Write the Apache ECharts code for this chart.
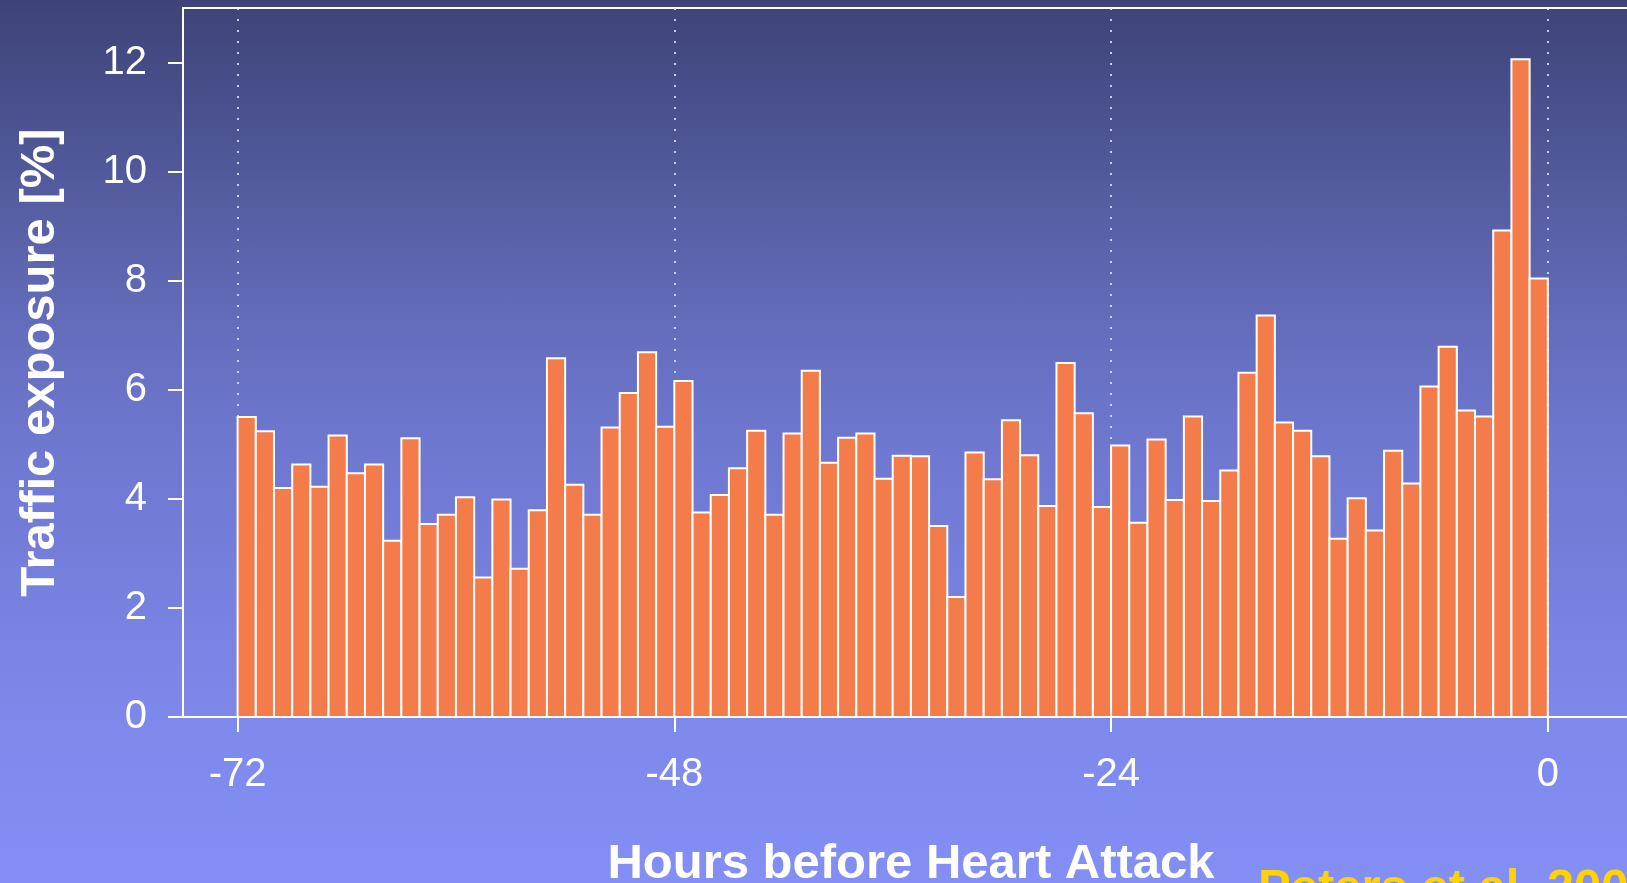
<!DOCTYPE html>
<html>
<head>
<meta charset="utf-8">
<script src="https://cdn.jsdelivr.net/npm/echarts@6/dist/echarts.min.js"></script>
<style>
  html, body { margin: 0; padding: 0; }
  body {
    width: 1627px; height: 883px; overflow: hidden;
    background: linear-gradient(to bottom, #3e4377 0%, #494f8b 11%, #646dbc 37%, #6e78d0 51%, #7e89ec 83%, #838ff5 100%);
  }
  #chart { width: 1627px; height: 883px; }
</style>
</head>
<body>
<div id="chart"></div>
<script>
// start hour of each 1-hour bin
var hourStart = [
  -72, -71, -70, -69, -68, -67, -66, -65, -64, -63, -62, -61,
  -60, -59, -58, -57, -56, -55, -54, -53, -52, -51, -50, -49,
  -48, -47, -46, -45, -44, -43, -42, -41, -40, -39, -38, -37,
  -36, -35, -34, -33, -32, -31, -30, -29, -28, -27, -26, -25,
  -24, -23, -22, -21, -20, -19, -18, -17, -16, -15, -14, -13,
  -12, -11, -10, -9, -8, -7, -6, -5, -4, -3, -2, -1
];
// traffic exposure [%] per bin
var exposure = [
  5.50, 5.24, 4.20, 4.63, 4.22, 5.16, 4.47, 4.63, 3.23, 5.11,
  3.54, 3.71, 4.03, 2.56, 3.99, 2.72, 3.79, 6.58, 4.26, 3.71,
  5.31, 5.94, 6.69, 5.32, 6.16, 3.75, 4.07, 4.56, 5.25, 3.71,
  5.20, 6.35, 4.66, 5.12, 5.20, 4.37, 4.79, 4.78, 3.50, 2.20,
  4.85, 4.36, 5.44, 4.80, 3.87, 6.49, 5.57, 3.85, 4.98, 3.56,
  5.09, 3.98, 5.51, 3.96, 4.52, 6.31, 7.36, 5.40, 5.25, 4.78,
  3.27, 4.01, 3.42, 4.88, 4.28, 6.06, 6.79, 5.62, 5.51, 8.92,
  12.06, 8.04
];
var xTicks = [-72, -48, -24, 0];
var yTicks = [0, 2, 4, 6, 8, 10, 12];

var myChart = echarts.init(document.getElementById('chart'), null, { renderer: 'canvas' });

var font = 'Liberation Sans, Arial, sans-serif';
var data = hourStart.map(function (h, i) { return [h, exposure[i]]; });

// each bin is drawn as a rect from h to h+1
function renderBin(params, api) {
  var h = api.value(0);
  var top = api.coord([h, api.value(1)]);
  var base = api.coord([h + 1, 0]);
  return {
    type: 'rect',
    shape: { x: top[0], y: top[1], width: base[0] - top[0], height: base[1] - top[1] },
    style: { fill: '#f47c4b', stroke: '#ffffff', lineWidth: 2 }
  };
}

var option = {
  backgroundColor: 'transparent',
  animation: false,
  grid: {
    left: 183, top: 8, width: 1474, height: 709,
    containLabel: false, outerBoundsMode: 'none',
    show: true, borderColor: '#ffffff', borderWidth: 2, backgroundColor: 'transparent'
  },
  xAxis: {
    type: 'value', min: -75, max: 6,
    name: 'Hours before Heart Attack',
    nameLocation: 'middle', nameGap: 123,
    nameTextStyle: { color: '#fff', fontSize: 49, fontWeight: 'bold', fontFamily: font, padding: [0, 18, 0, 0] },
    axisLine: { show: true, onZero: false, lineStyle: { color: '#fff', width: 2 } },
    axisTick: { show: true, length: 15, customValues: xTicks, lineStyle: { color: '#fff', width: 2 } },
    axisLabel: { customValues: xTicks, color: '#fff', fontSize: 40, fontFamily: font, margin: 38 },
    splitLine: { show: true, lineStyle: { color: 'rgba(225,228,250,0.85)', width: 2, type: [2, 9] } }
  },
  yAxis: {
    type: 'value', min: 0, max: 13,
    name: 'Traffic exposure [%]',
    nameLocation: 'middle', nameGap: 118,
    nameTextStyle: { color: '#fff', fontSize: 49, fontWeight: 'bold', fontFamily: font },
    axisLine: { show: true, onZero: false, lineStyle: { color: '#fff', width: 2 } },
    axisTick: { show: true, length: 15, customValues: yTicks, lineStyle: { color: '#fff', width: 2 } },
    axisLabel: { customValues: yTicks, color: '#fff', fontSize: 40, fontFamily: font, margin: 36 },
    splitLine: { show: false }
  },
  graphic: [{
    type: 'text', left: 1258, top: 865,
    style: { text: 'Peters et al. 2004', fill: '#ffd200', font: 'bold 49px ' + font }
  }],
  series: [{
    type: 'custom',
    renderItem: renderBin,
    encode: { x: 0, y: 1 },
    data: data,
    clip: false
  }]
};
myChart.setOption(option);
window.addEventListener('resize', function () { myChart.resize(); });
</script>
</body>
</html>
